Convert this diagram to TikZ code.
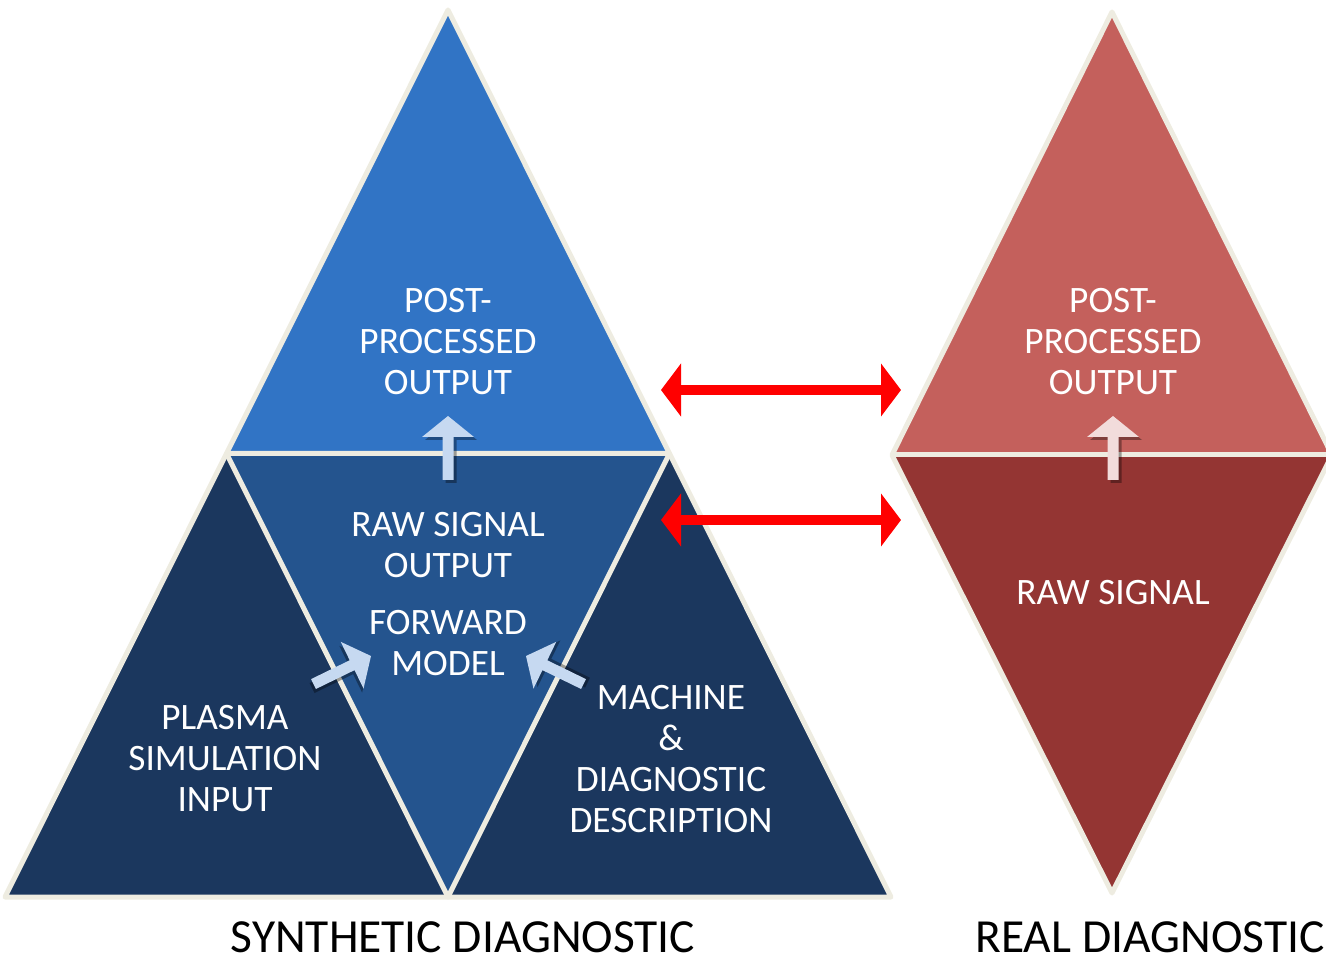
\documentclass[tikz,border=0pt]{standalone}
\usepackage{fontspec}
\setmainfont{Carlito}
\usetikzlibrary{arrows.meta}
\definecolor{topblue}{HTML}{3174C5}
\definecolor{midblue}{HTML}{24548E}
\definecolor{darkblue}{HTML}{1B375E}
\definecolor{topred}{HTML}{C4605C}
\definecolor{darkred}{HTML}{943533}
\definecolor{rim}{HTML}{EEECE1}
\definecolor{paleblue}{HTML}{C6D9F1}
\definecolor{palered}{HTML}{F2DCDB}
\tikzset{
  rimline/.style={draw=rim, line width=5pt, line join=round},
  label/.style={text=white, align=center, font=\fontsize{37.3}{41}\selectfont},
  caption/.style={text=black, anchor=base, inner sep=0pt, font=\fontsize{47.5}{52}\selectfont},
  link/.style={draw=red, line width=10pt,
    {Triangle[length=20pt,width=52pt]}-{Triangle[length=20pt,width=52pt]}},
  pics/blockarrow/.style={code={
    \fill[black, opacity=0.35, shift={(3,3)}]
      (0,0) -- (26,21) -- (5.5,21) -- (5.5,64) -- (-5.5,64) -- (-5.5,21) -- (-26,21) -- cycle;
    \fill[#1]
      (0,0) -- (26,21) -- (5.5,21) -- (5.5,64) -- (-5.5,64) -- (-5.5,21) -- (-26,21) -- cycle;
  }}
}
\begin{document}
\begin{tikzpicture}[x=1pt,y=-1pt]
\useasboundingbox (0,0) rectangle (1326,957);

% synthetic diagnostic pyramid
\coordinate (apex) at (448,10);
\coordinate (bl) at (5,897);
\coordinate (br) at (891,897);
\coordinate (ml) at (226.5,453.5);
\coordinate (mr) at (669.5,453.5);
\coordinate (mb) at (448,897);
\fill[topblue] (apex) -- (ml) -- (mr) -- cycle;
\fill[midblue] (ml) -- (mr) -- (mb) -- cycle;
\fill[darkblue] (ml) -- (bl) -- (mb) -- cycle;
\fill[darkblue] (mr) -- (mb) -- (br) -- cycle;
\draw[rimline] (apex) -- (bl) -- (br) -- cycle;
\draw[rimline] (ml) -- (mr) -- (mb) -- cycle;

% real diagnostic diamond
\coordinate (dt) at (1112,12);
\coordinate (dl) at (892,455);
\coordinate (dr) at (1332,455);
\coordinate (db) at (1112,893);
\fill[topred] (dt) -- (dl) -- (dr) -- cycle;
\fill[darkred] (dl) -- (db) -- (dr) -- cycle;
\draw[rimline] (dt) -- (dl) -- (db) -- (dr) -- cycle;
\draw[rimline] (dl) -- (dr);

% flow arrows
\pic at (448,416) {blockarrow=paleblue};
\pic[rotate=-64] at (371,656) {blockarrow=paleblue};
\pic[rotate=64] at (526,656) {blockarrow=paleblue};
\pic at (1113,416) {blockarrow=palered};

% comparison links
\coordinate (pl) at (661,390);
\coordinate (pr) at (901,390);
\coordinate (rl) at (661,520);
\coordinate (rr) at (901,520);
\draw[link] (pl) -- (pr);
\draw[link] (rl) -- (rr);

% block labels
\node[label] (post) at (448,342) {POST-\\PROCESSED\\OUTPUT};
\node[label] (raw) at (448,545) {RAW SIGNAL\\OUTPUT};
\node[label] (fwd) at (448,643) {FORWARD\\MODEL};
\node[label] (plasma) at (225,759) {PLASMA\\SIMULATION\\INPUT};
\node[label] (machine) at (671,759) {MACHINE\\\&\\DIAGNOSTIC\\DESCRIPTION};
\node[label] (rpost) at (1113,342) {POST-\\PROCESSED\\OUTPUT};
\node[label] (rraw) at (1113,593) {RAW SIGNAL};

% captions
\node[caption] (syn) at (463,952) {SYNTHETIC DIAGNOSTIC};
\node[caption] (real) at (1150,952) {REAL DIAGNOSTIC};
\end{tikzpicture}
\end{document}
